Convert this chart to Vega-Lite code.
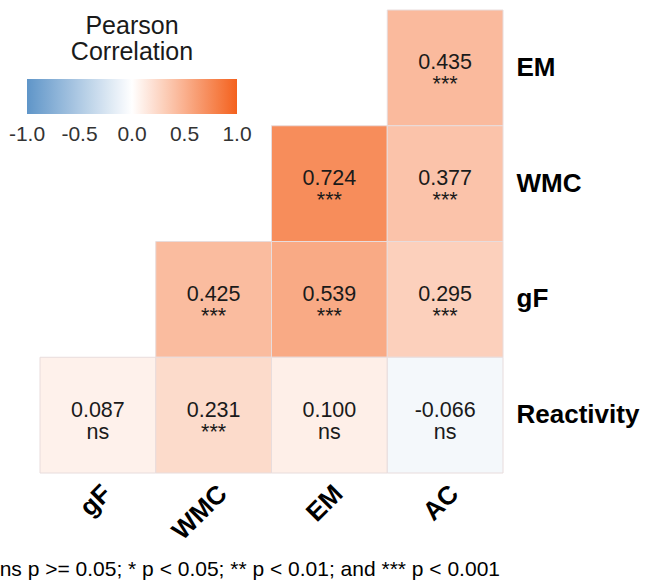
{
  "$schema": "https://vega.github.io/schema/vega-lite/v6.json",
  "width": 463,
  "height": 463,
  "autosize": {"type": "none"},
  "padding": {"left": 40, "top": 10, "right": 142, "bottom": 112},
  "background": "white",
  "config": {
    "font": "Liberation Sans",
    "view": {"stroke": null},
    "axis": {"grid": false, "domain": false, "ticks": false}
  },
  "title": {
    "text": "ns p >= 0.05; * p < 0.05; ** p < 0.01; and *** p < 0.001",
    "orient": "bottom",
    "anchor": "end",
    "frame": "group",
    "fontSize": 21,
    "fontWeight": "normal",
    "color": "#000000",
    "dx": -3,
    "offset": 15
  },
  "data": {
    "values": [
      {"row": "EM", "col": "AC", "r": 0.435, "lab": "0.435", "sig": "***"},
      {"row": "WMC", "col": "EM", "r": 0.724, "lab": "0.724", "sig": "***"},
      {"row": "WMC", "col": "AC", "r": 0.377, "lab": "0.377", "sig": "***"},
      {"row": "gF", "col": "WMC", "r": 0.425, "lab": "0.425", "sig": "***"},
      {"row": "gF", "col": "EM", "r": 0.539, "lab": "0.539", "sig": "***"},
      {"row": "gF", "col": "AC", "r": 0.295, "lab": "0.295", "sig": "***"},
      {"row": "Reactivity", "col": "gF", "r": 0.087, "lab": "0.087", "sig": "ns"},
      {"row": "Reactivity", "col": "WMC", "r": 0.231, "lab": "0.231", "sig": "***"},
      {"row": "Reactivity", "col": "EM", "r": 0.100, "lab": "0.100", "sig": "ns"},
      {"row": "Reactivity", "col": "AC", "r": -0.066, "lab": "-0.066", "sig": "ns"}
    ]
  },
  "encoding": {
    "x": {
      "field": "col", "type": "nominal", "sort": ["gF", "WMC", "EM", "AC"],
      "scale": {"paddingInner": 0, "paddingOuter": 0},
      "axis": {"title": null, "orient": "bottom", "labelAngle": -45, "labelAlign": "right", "labelBaseline": "top",
               "labelFontSize": 26, "labelFontWeight": "bold", "labelColor": "#000000", "labelPadding": 7}
    },
    "y": {
      "field": "row", "type": "nominal", "sort": ["EM", "WMC", "gF", "Reactivity"],
      "scale": {"paddingInner": 0, "paddingOuter": 0},
      "axis": {"title": null, "orient": "right", "labelFontSize": 26, "labelFontWeight": "bold",
               "labelColor": "#000000", "labelPadding": 13}
    }
  },
  "layer": [
    {
      "mark": {"type": "rect", "stroke": "#E8DCDC", "strokeWidth": 1},
      "encoding": {
        "color": {
          "field": "r", "type": "quantitative",
          "scale": {"domain": [-1, 0, 1], "range": ["#5F95C8", "#FFFFFF", "#F4611D"], "interpolate": "rgb"},
          "legend": {
            "orient": "none", "legendX": -13, "legendY": 4, "direction": "horizontal",
            "title": ["Pearson", "Correlation"], "titleFontSize": 25, "titleFontWeight": "normal",
            "titleColor": "#1a1a1a", "titleAnchor": "middle", "titleLineHeight": 26, "titlePadding": 14,
            "gradientLength": 210, "gradientThickness": 35, "gradientStrokeWidth": 0,
            "values": [-1, -0.5, 0, 0.5, 1],
            "labelFontSize": 21, "labelColor": "#333333", "labelOffset": 10,
            "labelExpr": "(datum.value < 0 ? '-' : '') + format(abs(datum.value), '.1f')",
            "encode": {"labels": {"update": {"align": {"value": "center"}}}}
          }
        }
      }
    },
    {
      "mark": {"type": "text", "baseline": "alphabetic", "dy": 1.5, "fontSize": 21.5, "color": "#1a1a1a"},
      "encoding": {"text": {"field": "lab", "type": "nominal"}}
    },
    {
      "mark": {"type": "text", "baseline": "alphabetic", "dy": 23.5, "fontSize": 21.5, "color": "#1a1a1a"},
      "encoding": {"text": {"field": "sig", "type": "nominal"}}
    }
  ]
}
